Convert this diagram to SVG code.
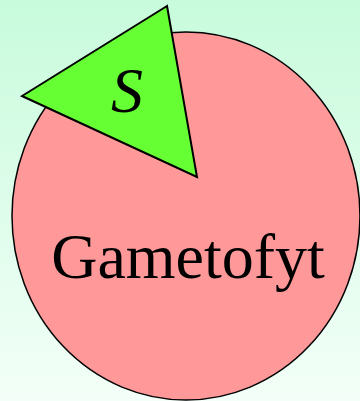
<svg xmlns="http://www.w3.org/2000/svg" width="360" height="401" viewBox="0 0 360 401">
<defs>
<linearGradient id="bg" x1="0" y1="0" x2="0" y2="1">
<stop offset="0" stop-color="#c8fbdc"/>
<stop offset="1" stop-color="#f3fff8"/>
</linearGradient>
</defs>
<style>
.lbl{font-family:"Liberation Serif","Times New Roman",serif;fill:#000;text-anchor:middle}
</style>
<rect width="360" height="401" fill="url(#bg)"/>
<g id="gametofyt">
<ellipse cx="186" cy="216" rx="174" ry="184" fill="#ff9999" stroke="#000" stroke-width="1.5"/>
<text class="lbl" x="188" y="278" font-size="64">Gametofyt</text>
</g>
<g id="s">
<polygon points="167,6 22,96 197,177" fill="#66ff33" stroke="#000" stroke-width="2" stroke-linejoin="miter"/>
<text class="lbl" x="127" y="112" font-size="64" font-style="italic">S</text>
</g>
</svg>
